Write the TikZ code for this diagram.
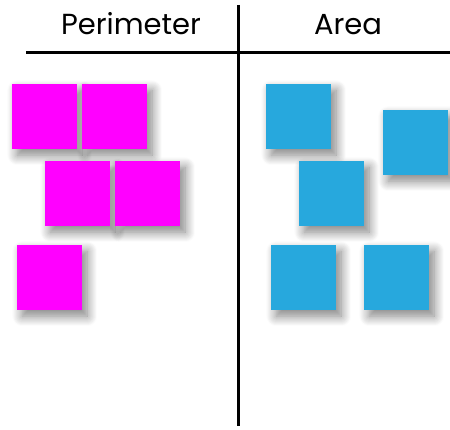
\documentclass[tikz,border=0pt]{standalone}
\usepackage{fontspec}
\setmainfont{Poppins}
\usetikzlibrary{shadows.blur}
\definecolor{permag}{RGB}{255,0,255}
\definecolor{areablue}{RGB}{39,168,221}
\tikzset{
  tile/.style={minimum size=65pt,inner sep=0pt,anchor=north west,
    blur shadow={shadow xshift=5pt,shadow yshift=-6pt,shadow blur radius=10pt,shadow opacity=50,shadow blur steps=10}},
  ptile/.style={tile,fill=permag},
  atile/.style={tile,fill=areablue},
  heading/.style={font=\fontsize{29}{32}\selectfont,anchor=base}
}
\begin{document}
\begin{tikzpicture}[x=1pt,y=-1pt]
\useasboundingbox (0,0) rectangle (450,430);
% chart lines
\coordinate (top) at (238,5);
\coordinate (bottom) at (238,426);
\coordinate (left) at (26,53);
\coordinate (right) at (450,53);
\draw[line width=3pt] (top) -- (bottom);
\draw[line width=3pt] (left) -- (right);
\node[heading] (perim) at (131,35) {Perimeter};
\node[heading] (area) at (348,35) {Area};
% perimeter tiles
\node[ptile] (p1) at (12,84) {};
\node[ptile] (p2) at (82,84) {};
\node[ptile] (p3) at (45,161) {};
\node[ptile] (p4) at (115,161) {};
\node[ptile] (p5) at (17,245) {};
% area tiles
\node[atile] (a1) at (266,84) {};
\node[atile] (a2) at (383,110) {};
\node[atile] (a3) at (299,161) {};
\node[atile] (a4) at (271,245) {};
\node[atile] (a5) at (364,245) {};
\end{tikzpicture}
\end{document}
